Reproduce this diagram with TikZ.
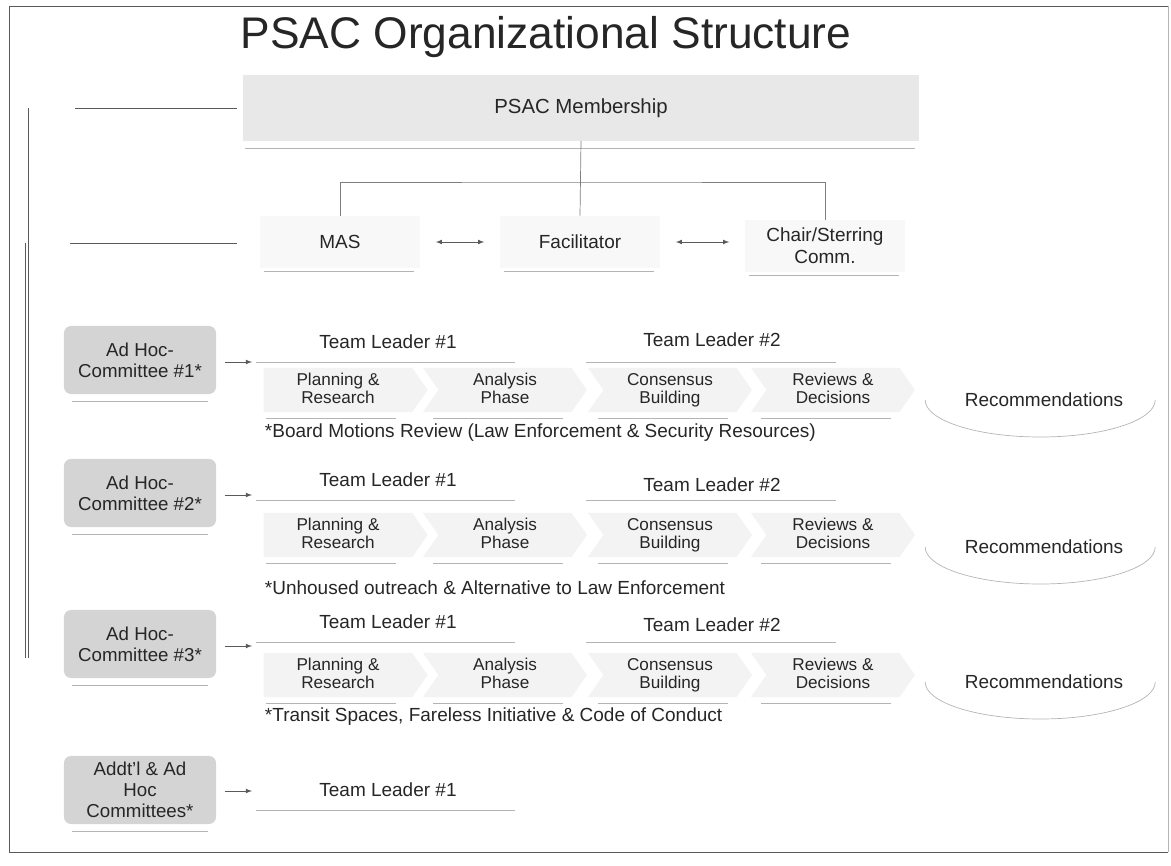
\documentclass[tikz,border=0pt]{standalone}
\usepackage{fontspec}
\setmainfont{Liberation Sans}
\usepackage{tikz}
\usetikzlibrary{shapes,arrows,positioning,calc}
\definecolor{inkgray}{RGB}{38,38,38}
\definecolor{boxgray}{RGB}{212,212,212}
\definecolor{bandgray}{RGB}{232,232,232}
\definecolor{palegray}{RGB}{248,248,248}
\definecolor{chevgray}{RGB}{243,243,243}
\definecolor{rulegray}{RGB}{180,180,180}
\definecolor{framegray}{RGB}{90,90,90}

\begin{document}
\begin{tikzpicture}[x=0.025cm,y=-0.025cm,
    every node/.style={text=inkgray},
    heading/.style={font=\fontsize{31.5}{34}\selectfont},
    member/.style={fill=bandgray, minimum width=16.9cm, minimum height=1.625cm, font=\fontsize{14.5}{16}\selectfont},
    officebox/.style={fill=palegray, minimum width=4cm, minimum height=1.3cm, align=center, font=\fontsize{13.5}{15.5}\selectfont},
    committee/.style={fill=boxgray, rounded corners=5pt, minimum width=3.8cm, minimum height=1.7cm, align=center, font=\fontsize{13.3}{15}\selectfont},
    leader/.style={font=\fontsize{13.5}{15}\selectfont},
    chev/.style={shape=signal, signal to=east, signal pointer angle=110, fill=chevgray, minimum width=4.1cm, minimum height=1.1cm, align=center, text depth=0.25em, font=\fontsize{12.2}{13}\selectfont},
    recomm/.style={ellipse, minimum width=5.75cm, minimum height=1.85cm, font=\fontsize{13.5}{15}\selectfont},
    note/.style={anchor=west, font=\fontsize{13.5}{15}\selectfont},
    rule/.style={rulegray, line width=0.5pt},
    frameline/.style={framegray, line width=0.7pt},
    tree/.style={rulegray!70!black, line width=0.5pt},
    flow/.style={-latex, framegray, line width=0.5pt, shorten <=6pt},
    twoway/.style={latex-latex, framegray, line width=0.5pt, shorten <=11pt, shorten >=11pt}
  ]
    \useasboundingbox (0,0) rectangle (1171,866);
    \draw[frameline] (1168,6) -- (9,6) -- (9,852) -- (1168,852);
    \draw[rule] (1168,6) -- (1168,852);
    \draw[frameline] (28,108) -- (28,658);
    \draw[frameline] (25,243) -- (25,658);
    \draw[frameline] (75,108) -- (237,108);
    \draw[frameline] (70,243) -- (237,243);

    \node[heading] (title) at (546,37) {PSAC Organizational Structure};

    \node[member] (mem) at (581,108) {PSAC Membership};
    \draw[rule] ([shift={(-336,8)}]mem.south) -- ([shift={(334,8)}]mem.south);
    \node[officebox] (mas) at (340,242) {MAS};
    \node[officebox] (fac) at (580,242) {Facilitator};
    \node[officebox] (chair) at (825,246) {Chair/Sterring\\Comm.};
    \foreach \b in {mas,fac,chair}
        \draw[rule] ([shift={(-76,3)}]\b.south) -- ([shift={(74,3)}]\b.south);
    \coordinate (bar) at (581,182);
    \draw[tree] (mem.south) -- (fac.north);
    \draw[tree] (mas.north) |- (bar) -| (chair.north);
    \draw[twoway] (mas) -- (fac);
    \draw[twoway] (fac.east) -- (fac.east -| chair.west);

    \foreach \n/\yb/\yt/\yu/\yc/\yr/\yn/\note in {
        1/360/342/340/390/400/433/{Board Motions Review (Law Enforcement \& Security Resources)},
        2/493/480/485/535/547/588/{Unhoused outreach \& Alternative to Law Enforcement},
        3/644/622/625/675/682/717/{Transit Spaces, Fareless Initiative \& Code of Conduct}}
    {
        \node[committee] (ahc\n) at (140,\yb) {Ad Hoc-\\Committee \#\n*};
        \draw[rule] ([shift={(-68,7)}]ahc\n.south) -- ([shift={(68,7)}]ahc\n.south);
        \coordinate (ahcin\n) at (252,\yb+2);
        \draw[flow] (ahc\n.east |- ahcin\n) -- (ahcin\n);
        \node[leader] (tla\n) at (388,\yt) {Team Leader \#1};
        \node[leader] (tlb\n) at (712,\yu) {Team Leader \#2};
        \draw[rule] (256,\yt+20) -- (515,\yt+20);
        \draw[rule] (586,\yt+20) -- (836,\yt+20);
        \foreach \k/\cx/\side/\txt in {pr/338/nowhere/{Planning \&\\Research},
                                      ap/505/west/{Analysis\\Phase},
                                      cb/670/west/{Consensus\\Building},
                                      rd/833/west/{Reviews \&\\Decisions}}
        {
            \node[chev, signal from=\side] (\k\n) at (\cx,\yc) {\txt};
            \draw[rule] ([shift={(-72,6)}]\k\n.south) -- ([shift={(58,6)}]\k\n.south);
        }
        \node[recomm] (rec\n) at (1044,\yr) {Recommendations};
        \draw[rule] (rec\n.west) arc[start angle=180, end angle=360, x radius=2.875cm, y radius=0.925cm];
        \node[note] (note\n) at (260,\yn) {*\note};
    }

    \node[committee] (ahc4) at (140,790) {Addt'l \& Ad\\Hoc\\Committees*};
    \draw[rule] ([shift={(-68,7)}]ahc4.south) -- ([shift={(68,7)}]ahc4.south);
    \coordinate (ahcin4) at (252,791);
    \draw[flow] (ahc4.east |- ahcin4) -- (ahcin4);
    \node[leader] (tla4) at (388,790) {Team Leader \#1};
    \draw[rule] (256,810) -- (515,810);
\end{tikzpicture}
\end{document}
